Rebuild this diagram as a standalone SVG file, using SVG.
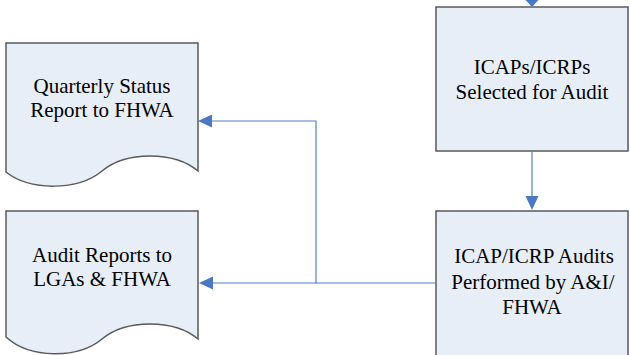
<svg xmlns="http://www.w3.org/2000/svg" width="630" height="355" viewBox="0 0 630 355">
<style>
.shape{fill:#E8EEF7;stroke:#5a5a5a;stroke-width:1.5}
.lbl{font-family:'Liberation Serif','Times New Roman',Tinos,'DejaVu Serif',serif;font-size:21px;fill:#000;text-anchor:middle}
.conn{fill:none;stroke:#4F81C7;stroke-width:1.2}
.head{fill:#4A78C4}
</style>
<rect width="630" height="355" fill="#fff"/>
<g id="doc-quarterly">
<path class="shape" d="M6,43 H198 V171 C174,151 126,151 102,171 C78,191 30,191 6,172 Z"/>
<text class="lbl" x="102" y="93">Quarterly Status</text>
<text class="lbl" x="102" y="117">Report to FHWA</text>
</g>
<g id="doc-audit-reports">
<path class="shape" d="M6,211 H198 V339 C174,319 126,319 102,339 C78,359 30,359 6,337 Z"/>
<text class="lbl" x="102" y="262">Audit Reports to</text>
<text class="lbl" x="102" y="286">LGAs &amp; FHWA</text>
</g>
<g id="box-selected">
<rect class="shape" x="436" y="7" width="192" height="144"/>
<text class="lbl" x="532" y="74">ICAPs/ICRPs</text>
<text class="lbl" x="532" y="99">Selected for Audit</text>
</g>
<g id="box-performed">
<rect class="shape" x="436" y="211" width="192" height="150"/>
<text class="lbl" x="534" y="263">ICAP/ICRP Audits</text>
<text class="lbl" x="533" y="289">Performed by A&amp;I/</text>
<text class="lbl" x="532" y="314">FHWA</text>
</g>
<g id="connectors">
<line class="conn" x1="532" y1="0" x2="532" y2="2"/>
<polygon class="head" points="525.5,0 538.5,0 532,7"/>
<line class="conn" x1="532" y1="151" x2="532" y2="197"/>
<polygon class="head" points="525.5,196 538.5,196 532,210"/>
<polyline class="conn" points="436,283 316,283 316,121 211,121"/>
<polygon class="head" points="198,121 212,114.5 212,127.5"/>
<line class="conn" x1="316" y1="283" x2="212" y2="283"/>
<polygon class="head" points="199,283 213,276.5 213,289.5"/>
</g>
</svg>
